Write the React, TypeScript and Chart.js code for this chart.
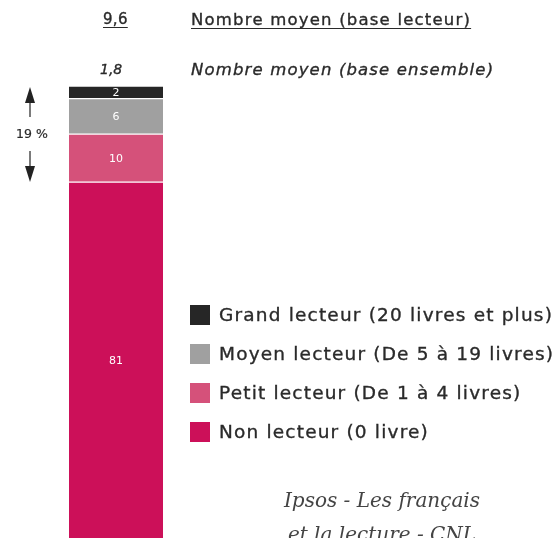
import React, { useEffect, useRef } from "react";
import { Chart, registerables } from "chart.js";

Chart.register(...registerables);

const categories = ["Lecteurs"];
const seriesNames = [
  "Non lecteur (0 livre)",
  "Petit lecteur (De 1 à 4 livres)",
  "Moyen lecteur (De 5 à 19 livres)",
  "Grand lecteur (20 livres et plus)",
];
// heights
const seriesValues = [[81], [9.5], [7], [2.5]];
// labels printed on the bars
const seriesLabels = [["81"], ["10"], ["6"], ["2"]];
const seriesColors = ["#cc1059", "#d5517a", "#a0a0a0", "#262626"];
const readerAverage = "9,6";
const readerAverageLabel = "Nombre moyen (base lecteur)";
const overallAverage = "1,8";
const overallAverageLabel = "Nombre moyen (base ensemble)";
const readersShare = "19 %";
const sourceLines = ["Ipsos - Les français", "et la lecture - CNL"];
const yMin = 10.7;
const yMax = 100;

const FONT = "'DejaVu Sans', sans-serif";

const segmentLabels = {
  id: "segmentLabels",
  afterDatasetsDraw(chart: any) {
    const ctx = chart.ctx;
    const area = chart.chartArea;
    ctx.save();
    ctx.fillStyle = "#ffffff";
    ctx.font = `11px ${FONT}`;
    ctx.textAlign = "center";
    ctx.textBaseline = "middle";
    chart.data.datasets.forEach((ds: any, i: number) => {
      const meta = chart.getDatasetMeta(i);
      meta.data.forEach((el: any, j: number) => {
        const top = Math.max(el.y, area.top);
        const bottom = Math.min(el.base, area.bottom);
        ctx.fillText(seriesLabels[i][j], el.x, (top + bottom) / 2 + 1);
      });
    });
    ctx.restore();
  },
};

export default function App() {
  const ref = useRef<HTMLCanvasElement | null>(null);
  useEffect(() => {
    if (!ref.current) return;
    const chart = new Chart(ref.current, {
      type: "bar",
      data: {
        labels: categories,
        datasets: seriesNames.map((name, i) => ({
          label: name,
          data: seriesValues[i],
          backgroundColor: seriesColors[i],
          borderColor: "#ffffff",
          borderWidth: { top: 1, bottom: 1, left: 0, right: 0 },
          borderSkipped: false,
          categoryPercentage: 1,
          barPercentage: 1,
        })),
      },
      options: {
        animation: false,
        responsive: false,
        maintainAspectRatio: false,
        layout: { padding: { left: 69, right: 393, top: 86, bottom: 0 } },
        plugins: { legend: { display: false }, tooltip: { enabled: false } },
        scales: {
          x: { stacked: true, display: false },
          y: { stacked: true, display: false, min: yMin, max: yMax },
        },
      },
      plugins: [segmentLabels],
    });
    return () => chart.destroy();
  }, []);

  const legendItems = seriesNames
    .map((n, i) => ({ n, c: seriesColors[i] }))
    .reverse();

  const txt: React.CSSProperties = {
    position: "absolute",
    fontFamily: FONT,
    color: "#2a2a2a",
    whiteSpace: "nowrap",
    margin: 0,
    lineHeight: 1,
    WebkitTextStroke: "0.35px #2a2a2a",
  };

  return (
    <div
      style={{
        position: "fixed",
        left: 0,
        top: 0,
        width: 556,
        height: 538,
        overflow: "hidden",
        background: "#ffffff",
      }}
    >
      <canvas
        ref={ref}
        width={556}
        height={538}
        style={{ position: "absolute", left: 0, top: 0, width: 556, height: 538 }}
      />
      <div style={{ ...txt, left: 103, top: 12, fontSize: 15, letterSpacing: 0.3, textDecoration: "underline", textUnderlineOffset: 3 }}>
        {readerAverage}
      </div>
      <div style={{ ...txt, left: 191, top: 12, fontSize: 16.5, letterSpacing: 1.2, textDecoration: "underline", textUnderlineOffset: 3 }}>
        {readerAverageLabel}
      </div>
      <div style={{ ...txt, left: 100, top: 62, fontSize: 14, fontStyle: "italic" }}>
        {overallAverage}
      </div>
      <div style={{ ...txt, left: 191, top: 62, fontSize: 16.5, fontStyle: "italic", letterSpacing: 1.15 }}>
        {overallAverageLabel}
      </div>

      {/* 19% annotation */}
      <svg style={{ position: "absolute", left: 20, top: 84, width: 20, height: 102 }} width={20} height={102}>
        <line x1={10} y1={14} x2={10} y2={33} stroke="#333" strokeWidth={1.3} />
        <polygon points="10,3 5,19 15,19" fill="#222" />
        <line x1={10} y1={67} x2={10} y2={86} stroke="#333" strokeWidth={1.3} />
        <polygon points="10,98 5,82 15,82" fill="#222" />
      </svg>
      <div style={{ ...txt, left: 16, top: 128, fontSize: 12.5, WebkitTextStroke: "0.2px #2a2a2a" }}>{readersShare}</div>

      {/* Legend */}
      {legendItems.map((it, i) => (
        <div key={it.n} style={{ ...txt, left: 190, top: 305 + i * 39, height: 20, display: "flex", alignItems: "center" }}>
          <span style={{ display: "inline-block", width: 20, height: 20, background: it.c, marginRight: 9 }} />
          <span style={{ fontSize: 18.5, letterSpacing: 1.18 }}>{it.n}</span>
        </div>
      ))}

      {/* Source */}
      {sourceLines.map((l, i) => (
        <div
          key={l}
          style={{
            ...txt,
            WebkitTextStroke: "0px",
            left: 232,
            width: 300,
            textAlign: "center",
            top: 490 + i * 34,
            fontFamily: "'DejaVu Serif', serif",
            fontStyle: "italic",
            fontSize: 20,
            color: "#444",
          }}
        >
          {l}
        </div>
      ))}
    </div>
  );
}
